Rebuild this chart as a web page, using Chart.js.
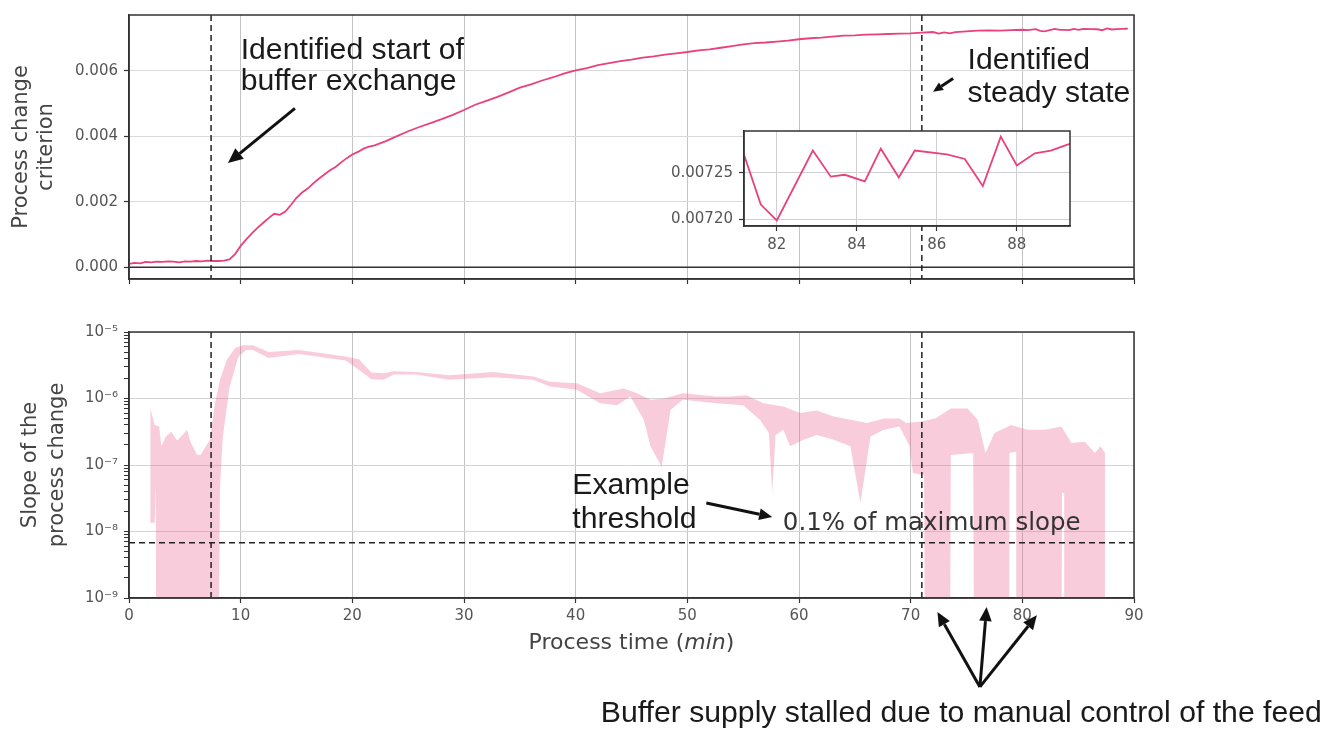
<!DOCTYPE html>
<html lang="en">
<head>
  <meta charset="UTF-8">
  <title>Process change criterion</title>
  <script src="https://cdn.jsdelivr.net/npm/chart.js"></script>
  <style>
    body { margin: 0; background: #fff; }
    #wrap { position: relative; width: 1338px; height: 730px; overflow: hidden; }
    canvas { position: absolute; }
    #topChart { left: 0; top: 0; }
    #bottomChart { left: 0; top: 300px; }
    #insetChart { left: 640px; top: 116px; }
  </style>
</head>
<body>
<div id="wrap">
  <canvas id="topChart" width="1338" height="300"></canvas>
  <canvas id="bottomChart" width="1338" height="430"></canvas>
  <canvas id="insetChart" width="440" height="140"></canvas>
</div>
<script>
  // process change criterion (min, value)
  const criterionTime = [
    0, 0.5, 1, 1.5, 2, 2.5, 3, 3.5, 4, 4.5, 5, 5.5, 6, 6.5, 7, 7.5, 8, 8.5, 9, 9.5,
    10, 10.5, 11, 11.5, 12, 12.5, 13, 13.5, 14, 14.5, 15, 15.5, 16, 16.5, 17, 17.5, 18, 18.5, 19, 19.5,
    20, 20.5, 21, 21.5, 22, 23, 24, 25, 26, 27, 28, 29, 30, 31, 32, 33, 34, 35, 36, 37, 38, 39,
    40, 41, 42, 43, 44, 45, 46, 47, 48, 49, 50, 51, 52, 53, 54, 55, 56, 57, 58, 59,
    60, 61, 62, 63, 64, 65, 66, 67, 68, 69, 70, 71, 72, 72.5, 73, 73.5, 74, 75, 76, 77, 78, 79, 80, 80.5,
    81.2, 81.6, 82.0, 82.9, 83.35, 83.7, 84.2, 84.6, 85.05, 85.45, 86.25, 86.7, 87.15, 87.6, 88.0, 88.45, 88.85, 89.25, 89.45
  ];
  const criterionValue = [
    0.00010, 0.00013, 0.00012, 0.00016, 0.00015, 0.00017, 0.00016, 0.00018, 0.00017, 0.00015,
    0.00018, 0.00017, 0.00019, 0.00018, 0.00020, 0.00019, 0.00019, 0.00020, 0.00024, 0.00040,
    0.00065, 0.00085, 0.00103, 0.00120, 0.00135, 0.00150, 0.00163, 0.00160, 0.00170, 0.00190,
    0.00212, 0.00228, 0.00240, 0.00256, 0.00270, 0.00283, 0.00296, 0.00306, 0.00320, 0.00333,
    0.00344, 0.00352, 0.00362, 0.00368, 0.00372, 0.00385, 0.00400, 0.00415, 0.00428, 0.00440,
    0.00452, 0.00465, 0.00480, 0.00496, 0.00508, 0.00520, 0.00534, 0.00548, 0.00558, 0.00570,
    0.00580, 0.00592, 0.00601, 0.00608, 0.00617, 0.00623, 0.00629, 0.00634, 0.00640, 0.00644,
    0.00649, 0.00653, 0.00657, 0.00662, 0.00665, 0.00670, 0.00675, 0.00680, 0.00684, 0.00686,
    0.00689, 0.00692, 0.00696, 0.00699, 0.00701, 0.00704, 0.00707, 0.00708, 0.00710, 0.00711,
    0.00712, 0.00713, 0.00714, 0.00716, 0.00718, 0.00713, 0.00717, 0.00714, 0.00718, 0.00720,
    0.00722, 0.00723, 0.00722, 0.00724, 0.00725, 0.00724,
    0.007267, 0.007216, 0.007199, 0.007274, 0.007246, 0.007248, 0.007241, 0.007276, 0.007245,
    0.007274, 0.007270, 0.007265, 0.007236, 0.007289, 0.007258, 0.007271, 0.007274, 0.007280, 0.007283
  ];

  // slope of the process change: upper and lower edge of the band
  const slopeUpperTime = [
    1.9, 2.3, 2.7, 2.9, 3.3, 3.8, 4.3, 4.8, 5.2, 5.5, 6.1, 6.4, 7.25, 7.7, 8.15, 8.75, 9.5, 10.2, 11.1,
    12.5, 15.2, 19.4, 20.6, 21.7, 22.8, 23.7, 25.7, 28.7, 32.6, 36.2, 37.7, 40.1, 42.2,
    44.3, 45.5, 46.7, 47.9, 49.6, 52.6, 53.8, 55.3, 56.8, 58.6, 60.1, 61.6, 63.1, 64.6, 66.1, 67.6,
    69.0, 69.6, 70.8, 72.2, 73.6, 75.1, 76.0, 76.7, 77.5, 79.0, 80.5, 82.0, 83.5, 84.4, 85.6, 86.5, 87.0, 87.4
  ];
  const slopeUpperValue = [
    7.24e-7, 3.98e-7, 3.80e-7, 1.91e-7, 2.69e-7, 3.16e-7, 2.34e-7, 2.82e-7, 3.39e-7, 2.24e-7, 1.41e-7,
    1.41e-7, 2.40e-7, 8.51e-7, 1.91e-6, 3.80e-6, 5.75e-6, 6.31e-6, 6.31e-6,
    5.01e-6, 5.37e-6, 4.27e-6, 3.89e-6, 2.45e-6, 2.40e-6, 2.57e-6, 2.51e-6, 2.24e-6,
    2.51e-6, 2.14e-6, 1.78e-6, 1.70e-6, 1.20e-6,
    1.41e-6, 1.20e-6, 9.55e-7, 1.00e-6, 1.20e-6, 1.07e-6, 1.07e-6, 1.12e-6, 8.51e-7, 7.59e-7, 6.03e-7,
    6.61e-7, 5.37e-7, 4.79e-7, 4.27e-7, 5.01e-7,
    5.01e-7, 4.27e-7, 4.47e-7, 5.01e-7, 7.08e-7, 7.08e-7, 4.79e-7, 1.51e-7, 3.02e-7, 3.98e-7, 3.39e-7,
    3.39e-7, 3.80e-7, 2.14e-7, 2.24e-7, 1.51e-7, 1.91e-7, 1.51e-7
  ];
  const slopeLowerTime = [
    1.9, 2.3, 2.4, 2.45, 7.95, 8.15, 8.4, 9.0, 9.8, 10.5, 11.1, 12.5, 15.2, 19.4,
    20.6, 21.7, 22.8, 23.7, 25.7, 28.7, 32.6, 36.2, 37.7, 40.1, 42.2, 43.7, 44.9, 46.1, 46.7, 47.7, 48.5,
    49.6, 52.6, 55.0, 56.5, 57.3, 57.6, 57.9, 58.6, 59.2, 60.4, 61.6, 63.1, 64.6, 65.5, 66.4, 67.6,
    69.0, 69.9, 70.2, 71.2, 71.3, 73.5, 73.6, 75.6, 75.7, 78.8, 78.85, 79.45, 79.5, 83.5, 83.55,
    83.75, 83.8, 87.4
  ];
  const slopeLowerValue = [
    1.35e-8, 1.35e-8, 4.68e-8, 1e-11, 1e-11, 4.68e-8, 2.63e-7, 1.48e-6, 4.27e-6, 5.37e-6, 5.37e-6,
    4.07e-6, 4.68e-6, 3.72e-6,
    2.69e-6, 1.95e-6, 1.91e-6, 2.29e-6, 2.29e-6, 1.91e-6, 2.09e-6, 1.91e-6, 1.51e-6, 1.35e-6, 8.51e-7,
    7.94e-7, 1.07e-6, 4.79e-7, 1.91e-7, 9.33e-8, 6.76e-7,
    9.55e-7, 8.51e-7, 7.94e-7, 4.79e-7, 3.02e-7, 3.80e-8, 2.82e-7, 3.39e-7, 1.91e-7, 2.40e-7, 2.82e-7,
    2.40e-7, 1.91e-7, 2.69e-8, 2.69e-7, 3.39e-7,
    3.80e-7, 1.91e-7, 7.59e-8, 7.08e-8, 1e-11, 1e-11, 1.41e-7, 1.51e-7, 1e-11, 1e-11, 1.51e-7,
    1.58e-7, 1e-11, 1e-11, 3.80e-8,
    3.80e-8, 1e-11, 1e-11
  ];

  const startTime = 7.35;
  const steadyTime = 71.0;
  const threshold = 6.8e-9;

  const timeTicks = [0, 10, 20, 30, 40, 50, 60, 70, 80, 90];
  const criterionTicks = [0, 0.002, 0.004, 0.006];
  const slopeTicks = [1e-9, 1e-8, 1e-7, 1e-6, 1e-5];
  const slopeTickLabels = ['10⁻⁹', '10⁻⁸', '10⁻⁷', '10⁻⁶', '10⁻⁵'];
  const insetTimeTicks = [82, 84, 86, 88];
  const insetTicks = [0.00720, 0.00725];

  const LINE_COLOR = '#e8417e';
  const BAND_COLOR = 'rgba(236, 100, 150, 0.33)';
  const TICK_FONT = { family: 'DejaVu Sans', size: 15 };
  const TICK_COLOR = '#555';
  const NOTE_FONT = '30.2px "Liberation Sans", Arial, sans-serif';

  function pts(xs, ys) {
    return xs.map((x, i) => ({ x: x, y: ys[i] }));
  }

  function drawArrow(ctx, x1, y1, x2, y2, w, head) {
    const a = Math.atan2(y2 - y1, x2 - x1);
    const bx = x2 - head * Math.cos(a), by = y2 - head * Math.sin(a);
    ctx.save();
    ctx.strokeStyle = ctx.fillStyle = '#111';
    ctx.lineWidth = w;
    ctx.beginPath(); ctx.moveTo(x1, y1); ctx.lineTo(bx, by); ctx.stroke();
    ctx.beginPath();
    ctx.moveTo(x2, y2);
    ctx.lineTo(bx + head * 0.45 * Math.sin(a), by - head * 0.45 * Math.cos(a));
    ctx.lineTo(bx - head * 0.45 * Math.sin(a), by + head * 0.45 * Math.cos(a));
    ctx.closePath(); ctx.fill();
    ctx.restore();
  }

  function drawLines(ctx, lines, x, y, gap, font, color) {
    ctx.save();
    ctx.font = font;
    ctx.fillStyle = color;
    ctx.textAlign = 'left';
    ctx.textBaseline = 'alphabetic';
    lines.forEach((l, i) => ctx.fillText(l, x, y + i * gap));
    ctx.restore();
  }

  function dashedV(chart, t) {
    const { ctx, chartArea: a, scales } = chart;
    const x = scales.x.getPixelForValue(t);
    ctx.save();
    ctx.strokeStyle = '#222'; ctx.lineWidth = 1.5; ctx.setLineDash([6, 4]);
    ctx.beginPath(); ctx.moveTo(x, a.top); ctx.lineTo(x, a.bottom); ctx.stroke();
    ctx.restore();
  }

  function frame(chart) {
    const { ctx, chartArea: a } = chart;
    ctx.save();
    ctx.strokeStyle = '#333'; ctx.lineWidth = 1.5;
    ctx.strokeRect(a.left, a.top, a.right - a.left, a.bottom - a.top);
    ctx.restore();
  }

  function timeAxis(showLabels) {
    return {
      type: 'linear', min: 0, max: 90,
      afterBuildTicks: s => { s.ticks = timeTicks.map(v => ({ value: v })); },
      ticks: { display: showLabels, font: TICK_FONT, color: TICK_COLOR, padding: 4, autoSkip: false, maxRotation: 0 },
      grid: { color: '#c4c4c4', lineWidth: 1, drawTicks: true, tickLength: 5, tickColor: '#333', tickWidth: 1.2 },
      border: { display: true, color: '#333', width: 1.5 }
    };
  }

  // top chart: criterion
  const topNotes = [
    { lines: ['Identified start of', 'buffer exchange'], x: 10.0, y: 0.00636, gap: 31 },
    { lines: ['Identified', 'steady state'], x: 75.1, y: 0.00606, gap: 33 }
  ];
  const topArrows = [
    { from: [14.86, 0.00485], to: [8.86, 0.00318], w: 3, head: 15 },
    { from: [73.8, 0.00576], to: [72.0, 0.00536], w: 3, head: 10 }
  ];

  new Chart(document.getElementById('topChart'), {
    type: 'line',
    data: {
      datasets: [{
        data: pts(criterionTime, criterionValue),
        borderColor: LINE_COLOR, borderWidth: 1.8, pointRadius: 0, tension: 0, fill: false
      }]
    },
    options: {
      responsive: false, animation: false,
      layout: { padding: { top: 13, right: 204, left: 0, bottom: 0 } },
      plugins: { legend: { display: false }, tooltip: { enabled: false } },
      scales: {
        x: Object.assign(timeAxis(false), { afterFit: s => { s.height = 21; } }),
        y: {
          type: 'linear', min: -0.00036, max: 0.0077,
          afterBuildTicks: s => { s.ticks = criterionTicks.map(v => ({ value: v })); },
          afterFit: s => { s.width = 129; },
          ticks: { font: TICK_FONT, color: TICK_COLOR, padding: 6, callback: v => v.toFixed(3) },
          grid: { color: '#dadada', drawTicks: true, tickLength: 5, tickColor: '#333', tickWidth: 1.2 },
          border: { display: true, color: '#333', width: 1.5 },
          title: {
            display: true, text: ['Process change', 'criterion'], color: '#444',
            font: { family: 'DejaVu Sans', size: 21, lineHeight: 1.2 }, padding: { top: 9, bottom: 0 }
          }
        }
      }
    },
    plugins: [{
      id: 'topExtras',
      afterDatasetsDraw(chart) {
        const { ctx, chartArea: a, scales } = chart;
        const y0 = scales.y.getPixelForValue(0);
        ctx.save();
        ctx.strokeStyle = '#333'; ctx.lineWidth = 1.5;
        ctx.beginPath(); ctx.moveTo(a.left, y0); ctx.lineTo(a.right, y0); ctx.stroke();
        ctx.restore();
        dashedV(chart, startTime);
        dashedV(chart, steadyTime);
        frame(chart);
      },
      afterDraw(chart) {
        const { ctx, scales } = chart;
        topNotes.forEach(n => drawLines(ctx, n.lines, scales.x.getPixelForValue(n.x),
          scales.y.getPixelForValue(n.y), n.gap, NOTE_FONT, '#1a1a1a'));
        topArrows.forEach(r => drawArrow(ctx,
          scales.x.getPixelForValue(r.from[0]), scales.y.getPixelForValue(r.from[1]),
          scales.x.getPixelForValue(r.to[0]), scales.y.getPixelForValue(r.to[1]), r.w, r.head));
      }
    }]
  });

  // inset: zoom on the steady state
  new Chart(document.getElementById('insetChart'), {
    type: 'line',
    data: {
      datasets: [{
        data: pts(criterionTime, criterionValue),
        borderColor: LINE_COLOR, borderWidth: 1.8, pointRadius: 0, tension: 0, fill: false
      }]
    },
    options: {
      responsive: false, animation: false,
      layout: { padding: { top: 10, right: 10, left: 0, bottom: 0 } },
      plugins: { legend: { display: false }, tooltip: { enabled: false } },
      scales: {
        x: {
          type: 'linear', min: 81.18, max: 89.33,
          afterBuildTicks: s => { s.ticks = insetTimeTicks.map(v => ({ value: v })); },
          afterFit: s => { s.height = 30; },
          ticks: { font: TICK_FONT, color: TICK_COLOR, padding: 5, maxRotation: 0, autoSkip: false },
          grid: { color: '#d0d0d0', drawTicks: true, tickLength: 5, tickColor: '#333', tickWidth: 1.2 },
          border: { display: true, color: '#333', width: 1.5 }
        },
        y: {
          type: 'linear', min: 0.007193, max: 0.007295,
          afterBuildTicks: s => { s.ticks = insetTicks.map(v => ({ value: v })); },
          afterFit: s => { s.width = 104; },
          ticks: { font: TICK_FONT, color: TICK_COLOR, padding: 6, callback: v => v.toFixed(5) },
          grid: { color: '#d0d0d0', drawTicks: true, tickLength: 5, tickColor: '#333', tickWidth: 1.2 },
          border: { display: true, color: '#333', width: 1.5 }
        }
      }
    },
    plugins: [{
      id: 'insetBg',
      beforeDraw(chart) {
        const { ctx, chartArea: a } = chart;
        ctx.save(); ctx.fillStyle = '#fff';
        ctx.fillRect(a.left, a.top, a.right - a.left, a.bottom - a.top);
        ctx.restore();
      },
      afterDraw(chart) { frame(chart); }
    }]
  });

  // bottom chart: slope band
  const bottomNotes = [
    { lines: ['Example', 'threshold'], x: 39.7, y: 3.66e-8, gap: 34, font: NOTE_FONT, color: '#1a1a1a' },
    { lines: ['0.1% of maximum slope'], x: 58.55, y: 1.05e-8, gap: 0, font: '24.5px "DejaVu Sans"', color: '#333' },
    { lines: ['Buffer supply stalled due to manual control of the feed'], x: 42.25, y: 1.36e-11, gap: 0, font: NOTE_FONT, color: '#1a1a1a' }
  ];
  const bottomArrows = [
    { from: [51.7, 2.69e-8], to: [57.6, 1.65e-8], w: 3, head: 13 },
    { from: [76.2, 4.6e-11], to: [72.4, 6.15e-10], w: 3, head: 14 },
    { from: [76.2, 4.6e-11], to: [76.8, 7.3e-10], w: 3, head: 14 },
    { from: [76.2, 4.6e-11], to: [81.3, 5.5e-10], w: 3, head: 14 }
  ];

  function isMajor(v) {
    return slopeTicks.some(t => Math.abs(t - v) / t < 1e-6);
  }
  const minorTicks = [];
  slopeTicks.slice(0, -1).forEach(t => { for (let k = 1; k <= 9; k++) minorTicks.push(t * k); });
  minorTicks.push(slopeTicks[slopeTicks.length - 1]);

  new Chart(document.getElementById('bottomChart'), {
    type: 'line',
    data: {
      datasets: [
        { data: pts(slopeLowerTime, slopeLowerValue), borderColor: 'rgba(0,0,0,0)', borderWidth: 0, pointRadius: 0, fill: false },
        { data: pts(slopeUpperTime, slopeUpperValue), borderColor: 'rgba(0,0,0,0)', borderWidth: 0, pointRadius: 0,
          fill: '-1', backgroundColor: BAND_COLOR }
      ]
    },
    options: {
      responsive: false, animation: false,
      layout: { padding: { top: 32, right: 204, left: 0, bottom: 0 } },
      plugins: { legend: { display: false }, tooltip: { enabled: false } },
      scales: {
        x: Object.assign(timeAxis(true), { afterFit: s => { s.height = 132; } }),
        y: {
          type: 'logarithmic', min: 1e-9, max: 1e-5,
          afterBuildTicks: s => { s.ticks = minorTicks.map(v => ({ value: v })); },
          afterFit: s => { s.width = 129; },
          ticks: {
            font: TICK_FONT, color: TICK_COLOR, padding: 6, autoSkip: false,
            callback: v => {
              const i = slopeTicks.findIndex(t => Math.abs(t - v) / t < 1e-6);
              return i >= 0 ? slopeTickLabels[i] : '';
            }
          },
          grid: {
            color: c => (c.tick && isMajor(c.tick.value)) ? '#d4d4d4' : 'rgba(0,0,0,0)',
            drawTicks: true, tickLength: 5, tickColor: '#333', tickWidth: 1
          },
          border: { display: true, color: '#333', width: 1.5 },
          title: {
            display: true, text: ['Slope of the', 'process change'], color: '#444',
            font: { family: 'DejaVu Sans', size: 21, lineHeight: 1.28 }, padding: { top: 17, bottom: 0 }
          }
        }
      }
    },
    plugins: [{
      id: 'bottomExtras',
      afterDatasetsDraw(chart) {
        const { ctx, chartArea: a, scales } = chart;
        dashedV(chart, startTime);
        dashedV(chart, steadyTime);
        const yt = scales.y.getPixelForValue(threshold);
        ctx.save();
        ctx.strokeStyle = '#222'; ctx.lineWidth = 1.5; ctx.setLineDash([6, 4]);
        ctx.beginPath(); ctx.moveTo(a.left, yt); ctx.lineTo(a.right, yt); ctx.stroke();
        ctx.restore();
        frame(chart);
      },
      afterDraw(chart) {
        const { ctx, chartArea: a, scales } = chart;
        bottomNotes.forEach(n => drawLines(ctx, n.lines, scales.x.getPixelForValue(n.x),
          scales.y.getPixelForValue(n.y), n.gap, n.font, n.color));
        bottomArrows.forEach(r => drawArrow(ctx,
          scales.x.getPixelForValue(r.from[0]), scales.y.getPixelForValue(r.from[1]),
          scales.x.getPixelForValue(r.to[0]), scales.y.getPixelForValue(r.to[1]), r.w, r.head));

        // x axis title with italic unit
        const parts = [['Process time (', ''], ['min', 'italic '], [')', '']];
        ctx.save();
        ctx.fillStyle = '#444';
        ctx.textBaseline = 'middle';
        ctx.textAlign = 'left';
        let total = 0;
        parts.forEach(p => { ctx.font = p[1] + '22px "DejaVu Sans"'; total += ctx.measureText(p[0]).width; });
        let x = (a.left + a.right) / 2 - total / 2;
        const y = a.bottom + 45;
        parts.forEach(p => {
          ctx.font = p[1] + '22px "DejaVu Sans"';
          ctx.fillText(p[0], x, y);
          x += ctx.measureText(p[0]).width;
        });
        ctx.restore();
      }
    }]
  });
</script>
</body>
</html>
